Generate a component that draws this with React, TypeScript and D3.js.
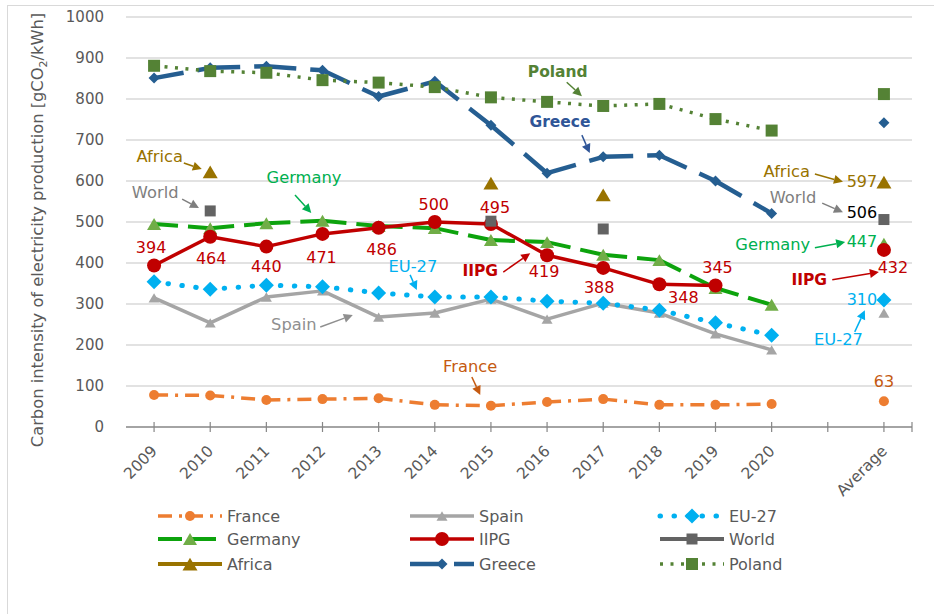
import React from 'react';
import * as d3 from 'd3';

const categories = ["2009", "2010", "2011", "2012", "2013", "2014", "2015", "2016", "2017", "2018", "2019", "2020", "", "Average"];
const yTicks = [0, 100, 200, 300, 400, 500, 600, 700, 800, 900, 1000];

const france = [78, 77, 66, 68, 70, 54, 52, 61, 68, 54, 54, 56, null, 63];
const spain = [315, 254, 317, 332, 268, 278, 312, 263, 302, 278, 227, 188, null, 278];
const eu27 = [354, 336, 346, 342, 327, 317, 317, 307, 302, 285, 254, 224, null, 310];
const germany = [495, 485, 497, 503, 490, 485, 456, 451, 420, 407, 339, 298, null, 447];
const iipg = [394, 464, 440, 471, 486, 500, 495, 419, 388, 348, 345, null, null, 432];
const world = [null, 527, null, null, null, null, 502, null, 483, null, null, null, null, 506];
const africa = [null, 622, null, null, null, null, 595, null, 566, null, null, null, null, 597];
const greece = [851, 876, 880, 870, 806, 843, 736, 619, 659, 663, 600, 521, null, 742];
const poland = [881, 868, 864, 846, 840, 829, 804, 793, 783, 788, 751, 723, null, 812];

type Shape = 'circle' | 'triangle' | 'diamond' | 'square';
interface Style {
  name: string; values: (number | null)[]; color: string; mcolor: string; width: number;
  dash?: string; cap?: 'butt' | 'round'; shape: Shape; size: number;
}

const SERIES: Style[] = [
  { name: 'France', values: france, color: '#ED7D31', mcolor: '#ED7D31', width: 3.5, dash: '14 7 3 7', shape: 'circle', size: 10 },
  { name: 'Spain', values: spain, color: '#A5A5A5', mcolor: '#A5A5A5', width: 3.5, shape: 'triangle', size: 11 },
  { name: 'EU-27', values: eu27, color: '#00B0F0', mcolor: '#00B0F0', width: 5, dash: '0.5 13.5', cap: 'round', shape: 'diamond', size: 15 },
  { name: 'Germany', values: germany, color: '#0DA30D', mcolor: '#70AD47', width: 4, dash: '24 10', shape: 'triangle', size: 14 },
  { name: 'IIPG', values: iipg, color: '#C00000', mcolor: '#C00000', width: 3.5, shape: 'circle', size: 14 },
  { name: 'World', values: world, color: '#636363', mcolor: '#636363', width: 4, shape: 'square', size: 11 },
  { name: 'Africa', values: africa, color: '#997300', mcolor: '#997300', width: 4, shape: 'triangle', size: 15 },
  { name: 'Greece', values: greece, color: '#255E91', mcolor: '#255E91', width: 4.5, dash: '30 14', shape: 'diamond', size: 11 },
  { name: 'Poland', values: poland, color: '#548235', mcolor: '#548235', width: 3.5, dash: '3 7.5', shape: 'square', size: 12 },
];

// IIPG data-label offsets (label placement, px)
const iipgLabelOffsets: [number, number][] = [
  [-3, -12], [1, 27], [0, 25], [-1, 29], [3, 27], [-1, -12], [4, -11], [-3, 22], [-4, 25], [24, 19], [2, -13], [0, 0], [0, 0], [9, 23],
];
// Average-value labels for other series
const avgLabels = [
  { series: 'Africa', color: '#997300', dx: -22, dy: 5 },
  { series: 'World', color: '#000000', dx: -22, dy: -2 },
  { series: 'Germany', color: '#00B050', dx: -22, dy: 3 },
  { series: 'EU-27', color: '#00B0F0', dx: -22, dy: 5 },
  { series: 'France', color: '#C55A11', dx: 0, dy: -14 },
];

// Annotations in data units: [category index, value]
const annotations = [
  { text: 'Poland', color: '#548235', bold: true, t: [7.19, 854], a: [7.35, 841], b: [7.62, 807] },
  { text: 'Greece', color: '#2F5597', bold: true, t: [7.23, 732], a: [7.62, 712], b: [7.76, 668] },
  { text: 'Africa', color: '#997300', bold: false, t: [0.10, 646], a: [0.53, 644], b: [0.85, 629] },
  { text: 'World', color: '#7F7F7F', bold: false, t: [0.02, 559], a: [0.50, 556], b: [0.80, 534] },
  { text: 'Germany', color: '#00B050', bold: false, t: [2.67, 595], a: [2.51, 566], b: [2.80, 522] },
  { text: 'Spain', color: '#8F8F8F', bold: false, t: [2.49, 237], a: [2.96, 244], b: [3.54, 273] },
  { text: 'EU-27', color: '#00B0F0', bold: false, t: [4.61, 378], a: [4.56, 371], b: [4.68, 334] },
  { text: 'IIPG', color: '#C00000', bold: true, t: [5.81, 368], a: [6.22, 378], b: [6.70, 424] },
  { text: 'France', color: '#C55A11', bold: false, t: [5.63, 134], a: [5.66, 122], b: [5.81, 78] },
  { text: 'Africa', color: '#997300', bold: false, t: [11.27, 610], a: [11.77, 617], b: [12.27, 598] },
  { text: 'World', color: '#7F7F7F', bold: false, t: [11.38, 546], a: [11.90, 546], b: [12.27, 524] },
  { text: 'Germany', color: '#00B050', bold: false, t: [11.02, 432], a: [11.77, 437], b: [12.31, 451] },
  { text: 'IIPG', color: '#C00000', bold: true, t: [11.67, 346], a: [12.08, 359], b: [12.91, 378] },
  { text: 'EU-27', color: '#00B0F0', bold: false, t: [12.19, 200], a: [12.48, 232], b: [12.66, 285] },
];

const FONT = 'DejaVu Sans, sans-serif';

function markerPath(shape: Shape, s: number): string {
  const h = s / 2;
  if (shape === 'circle') return d3.symbol().type(d3.symbolCircle).size(Math.PI * h * h)() as string;
  if (shape === 'square') return `M${-h},${-h}H${h}V${h}H${-h}Z`;
  if (shape === 'diamond') return `M0,${-h}L${h},0L0,${h}L${-h},0Z`;
  const th = s * 0.85;
  return `M0,${-th / 2}L${h},${th / 2}L${-h},${th / 2}Z`;
}

function Arrow({ x1, y1, x2, y2, color }: { x1: number; y1: number; x2: number; y2: number; color: string }) {
  const ang = Math.atan2(y2 - y1, x2 - x1);
  const L = 9, W = 4.5;
  const bx = x2 - L * Math.cos(ang), by = y2 - L * Math.sin(ang);
  const px = -Math.sin(ang) * W, py = Math.cos(ang) * W;
  return (
    <g>
      <line x1={x1} y1={y1} x2={bx} y2={by} stroke={color} strokeWidth={1.5} />
      <path d={`M${x2},${y2}L${bx + px},${by + py}L${bx - px},${by - py}Z`} fill={color} />
    </g>
  );
}

export default function App() {
  const W = 934, H = 614;
  const left = 126, right = 912, top = 17, bottom = 427;
  const x = d3.scalePoint<string>().domain(categories).range([left, right]).padding(0.5);
  const xi = d3.scaleLinear().domain([-0.5, categories.length - 0.5]).range([left, right]);
  const y = d3.scaleLinear().domain([0, 1000]).range([bottom, top]);
  const lineGen = d3.line<[number, number]>().x(d => d[0]).y(d => d[1]);

  const legendRows = [516, 539, 564];
  const legendCols = [158, 410, 660];

  return (
    <div style={{ position: 'absolute', left: 0, top: 0 }}>
      <svg width={W} height={H} style={{ display: 'block', fontFamily: FONT }}>
        <rect x={0} y={0} width={W} height={H} fill="#fff" />
        <rect x={7.5} y={5.5} width={940} height={640} fill="#fff" stroke="#D9D9D9" strokeWidth={1} />
        {/* gridlines */}
        {yTicks.filter(t => t > 0).map(t => (
          <line key={t} x1={left} x2={right} y1={y(t)} y2={y(t)} stroke="#D9D9D9" strokeWidth={1.3} />
        ))}
        {/* y tick labels */}
        {yTicks.map(t => (
          <text key={t} x={104} y={y(t)} dy="0.36em" textAnchor="end" fontSize={15} fill="#595959">{t}</text>
        ))}
        {/* y title */}
        <text transform={`translate(43,230) rotate(-90)`} textAnchor="middle" fontSize={16.3} fill="#595959">
          Carbon intensity of electricity production [gCO<tspan fontSize={11} dy={4}>2</tspan><tspan dy={-4}>/kWh]</tspan>
        </text>
        {/* x axis */}
        <line x1={left} x2={right} y1={bottom} y2={bottom} stroke="#868686" strokeWidth={1.5} />
        {categories.map((c, i) => (
          <line key={'t' + i} x1={x(c)} x2={x(c)} y1={bottom - 5} y2={bottom + 5} stroke="#868686" strokeWidth={1.2} />
        ))}
        <line x1={right} x2={right} y1={bottom - 5} y2={bottom + 5} stroke="#868686" strokeWidth={1.2} />
        {categories.map((c, i) => c ? (
          <text key={'xl' + i} transform={`translate(${(x(c) as number) + 4},452) rotate(-45)`} textAnchor="end" fontSize={15.5} fill="#595959">{c}</text>
        ) : null)}
        {/* series */}
        {SERIES.map(s => {
          const segs: JSX.Element[] = [];
          s.values.forEach((v, i) => {
            const n = s.values[i + 1];
            if (v != null && n != null && i + 1 < categories.length) {
              const d = lineGen([[x(categories[i]) as number, y(v)], [x(categories[i + 1]) as number, y(n)]]) as string;
              segs.push(<path key={i} d={d} fill="none" stroke={s.color} strokeWidth={s.width} strokeDasharray={s.dash} strokeLinecap={s.cap || 'butt'} />);
            }
          });
          return (
            <g key={s.name}>
              {segs}
              {s.values.map((v, i) => v == null ? null : (
                <path key={'m' + i} d={markerPath(s.shape, s.size)} transform={`translate(${x(categories[i])},${y(v)})`} fill={s.mcolor} />
              ))}
            </g>
          );
        })}
        {/* IIPG data labels */}
        {iipg.map((v, i) => v == null ? null : (
          <text key={'il' + i} x={(x(categories[i]) as number) + iipgLabelOffsets[i][0]} y={y(v) + iipgLabelOffsets[i][1]} textAnchor="middle" fontSize={16} fill="#C00000">{v}</text>
        ))}
        {/* average labels */}
        {avgLabels.map(l => {
          const s = SERIES.find(q => q.name === l.series)!;
          const v = s.values[categories.length - 1] as number;
          return <text key={'al' + l.series} x={(x('Average') as number) + l.dx} y={y(v) + l.dy} textAnchor="middle" fontSize={16} fill={l.color}>{v}</text>;
        })}
        {/* annotations */}
        {annotations.map((a, k) => (
          <g key={'an' + k}>
            <text x={xi(a.t[0])} y={y(a.t[1])} textAnchor="middle" fontSize={a.bold ? 15.5 : 16.3} fontWeight={a.bold ? 'bold' : 'normal'} fill={a.color}>{a.text}</text>
            <Arrow x1={xi(a.a[0])} y1={y(a.a[1])} x2={xi(a.b[0])} y2={y(a.b[1])} color={a.color} />
          </g>
        ))}
        {/* legend */}
        {SERIES.map((s, k) => {
          const r = Math.floor(k / 3), c = k % 3;
          const ly = legendRows[r], lx = legendCols[c];
          return (
            <g key={'lg' + k}>
              <line x1={lx} x2={lx + 64} y1={ly} y2={ly} stroke={s.color} strokeWidth={s.width} strokeDasharray={s.dash} strokeLinecap={s.cap || 'butt'} />
              <path d={markerPath(s.shape, s.size)} transform={`translate(${lx + 32},${ly})`} fill={s.mcolor} />
              <text x={lx + 69} y={ly} dy="0.36em" fontSize={16} fill="#595959">{s.name}</text>
            </g>
          );
        })}
      </svg>
    </div>
  );
}
